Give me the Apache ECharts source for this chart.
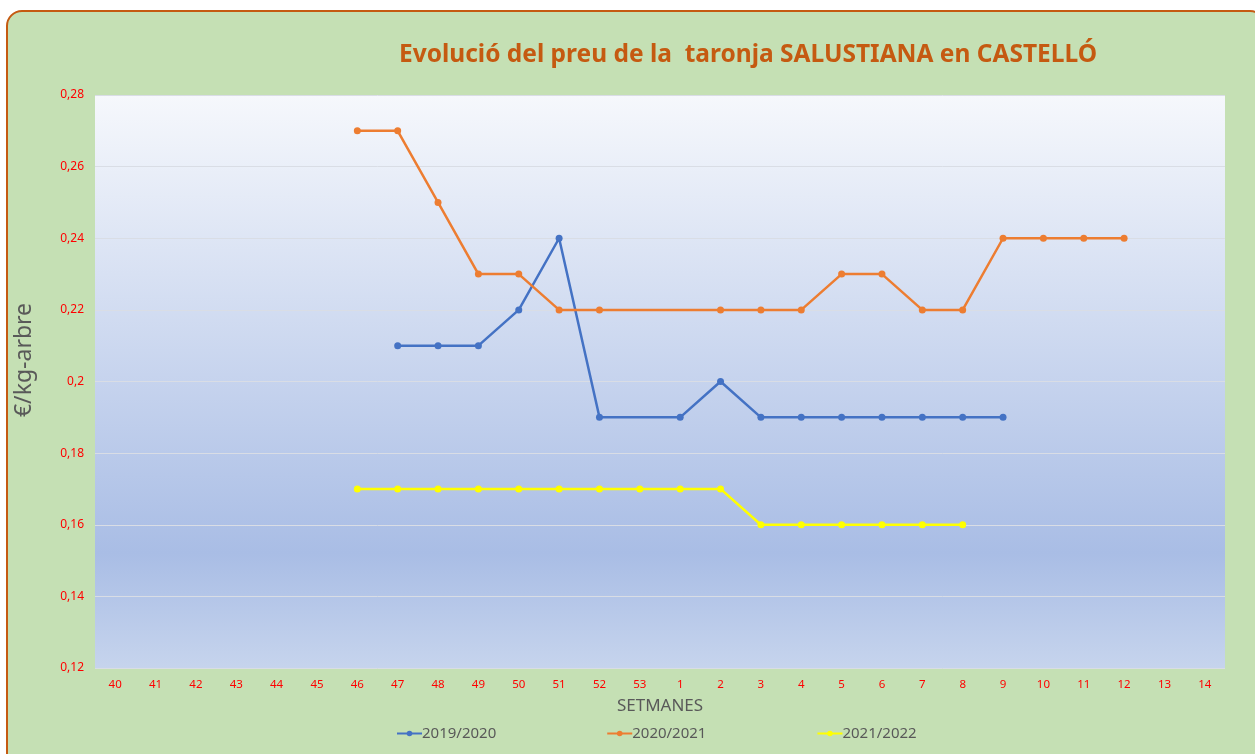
<!DOCTYPE html>
<html>
<head>
<meta charset="utf-8">
<script src="https://cdn.jsdelivr.net/npm/echarts@6/dist/echarts.min.js"></script>
<style>
	html, body { margin: 0; padding: 0; background: #ffffff; }
	#frame {
		position: absolute; left: 6px; top: 10px; width: 1260px; height: 760px;
		background: #c5e0b4; border: 2px solid #c55a11; border-radius: 16px; box-sizing: border-box;
	}
	#chart { position: absolute; left: 0; top: 0; width: 1255px; height: 754px; }
</style>
</head>
<body>
<div id="frame"></div>
<div id="chart"></div>
<script>
	// setmanes (eix x)
	var weeks = ['40', '41', '42', '43', '44', '45', '46', '47', '48', '49', '50', '51', '52', '53',
		'1', '2', '3', '4', '5', '6', '7', '8', '9', '10', '11', '12', '13', '14'];
	// preus per campanya (null = sense dada)
	var s2019 = [null, null, null, null, null, null, null, 0.21, 0.21, 0.21, 0.22, 0.24, 0.19, null,
		0.19, 0.20, 0.19, 0.19, 0.19, 0.19, 0.19, 0.19, 0.19, null, null, null, null, null];
	var s2020 = [null, null, null, null, null, null, 0.27, 0.27, 0.25, 0.23, 0.23, 0.22, 0.22, null,
		null, 0.22, 0.22, 0.22, 0.23, 0.23, 0.22, 0.22, 0.24, 0.24, 0.24, 0.24, null, null];
	var s2021 = [null, null, null, null, null, null, 0.17, 0.17, 0.17, 0.17, 0.17, 0.17, 0.17, 0.17,
		0.17, 0.17, 0.16, 0.16, 0.16, 0.16, 0.16, 0.16, null, null, null, null, null, null];
	var seriesNames = ['2019/2020', '2020/2021', '2021/2022'];
	var colors = ['#4472c4', '#ed7d31', '#ffff00'];

	var myChart = echarts.init(document.getElementById('chart'));

	function line(name, data, color) {
		return {
			name: name,
			type: 'line',
			data: data,
			connectNulls: true,
			symbol: 'circle',
			symbolSize: 7,
			lineStyle: { width: 2.5, color: color },
			itemStyle: { color: color },
			emphasis: { disabled: true }
		};
	}

	var option = {
		animation: false,
		backgroundColor: 'transparent',
		textStyle: { fontFamily: 'Noto Sans' },
		title: {
			text: 'Evolució del preu de la  taronja SALUSTIANA en CASTELLÓ',
			left: 743,
			top: 38,
			textAlign: 'center',
			textStyle: { color: '#c55a11', fontSize: 24.5, fontWeight: 'bold', fontFamily: 'Noto Sans' }
		},
		legend: {
			top: 721,
			left: 391,
			itemGap: 110,
			itemWidth: 25,
			itemHeight: 7,
			data: seriesNames,
			textStyle: { color: '#595959', fontSize: 15, padding: [0, 0, 0, -5] }
		},
		grid: { left: 95, right: 30, top: 95, bottom: 86 },
		xAxis: {
			type: 'category',
			data: weeks,
			name: 'SETMANES',
			nameLocation: 'middle',
			nameGap: 30,
			nameTextStyle: { color: '#595959', fontSize: 17 },
			axisLine: { show: false },
			axisTick: { show: false },
			axisLabel: { color: '#ff0000', fontSize: 11.5, margin: 11 }
		},
		yAxis: {
			type: 'value',
			min: 0.12,
			max: 0.28,
			interval: 0.02,
			axisLine: { show: false },
			axisTick: { show: false },
			axisLabel: {
				color: '#ff0000', fontSize: 12, margin: 11,
				formatter: function (v) { return String(Math.round(v * 100) / 100).replace('.', ','); }
			},
			splitLine: { lineStyle: { color: '#d9dde5', width: 1 } },
			splitArea: { show: false }
		},
		series: [
			line(seriesNames[0], s2019, colors[0]),
			line(seriesNames[1], s2020, colors[1]),
			line(seriesNames[2], s2021, colors[2])
		]
	};
	myChart.setOption(option);

	// fons en degradat de l'àrea del gràfic + títol de l'eix y
	var rect = myChart.getModel().getComponent('grid').coordinateSystem.getRect();
	myChart.setOption({
		graphic: [{
			type: 'rect',
			z: -1,
			silent: true,
			shape: { x: rect.x, y: rect.y, width: rect.width, height: rect.height },
			style: {
				fill: new echarts.graphic.LinearGradient(0, 0, 0, 1, [
					{ offset: 0, color: '#f6f8fc' },
					{ offset: 0.8, color: '#a9bde5' },
					{ offset: 1, color: '#c6d4ed' }
				])
			}
		}, {
			type: 'text',
			x: 24,
			y: 360,
			rotation: Math.PI / 2,
			style: {
				text: '€/kg-arbre',
				fill: '#595959',
				fontSize: 23,
				fontFamily: 'Noto Sans',
				align: 'center',
				verticalAlign: 'middle'
			}
		}]
	});
</script>
</body>
</html>
